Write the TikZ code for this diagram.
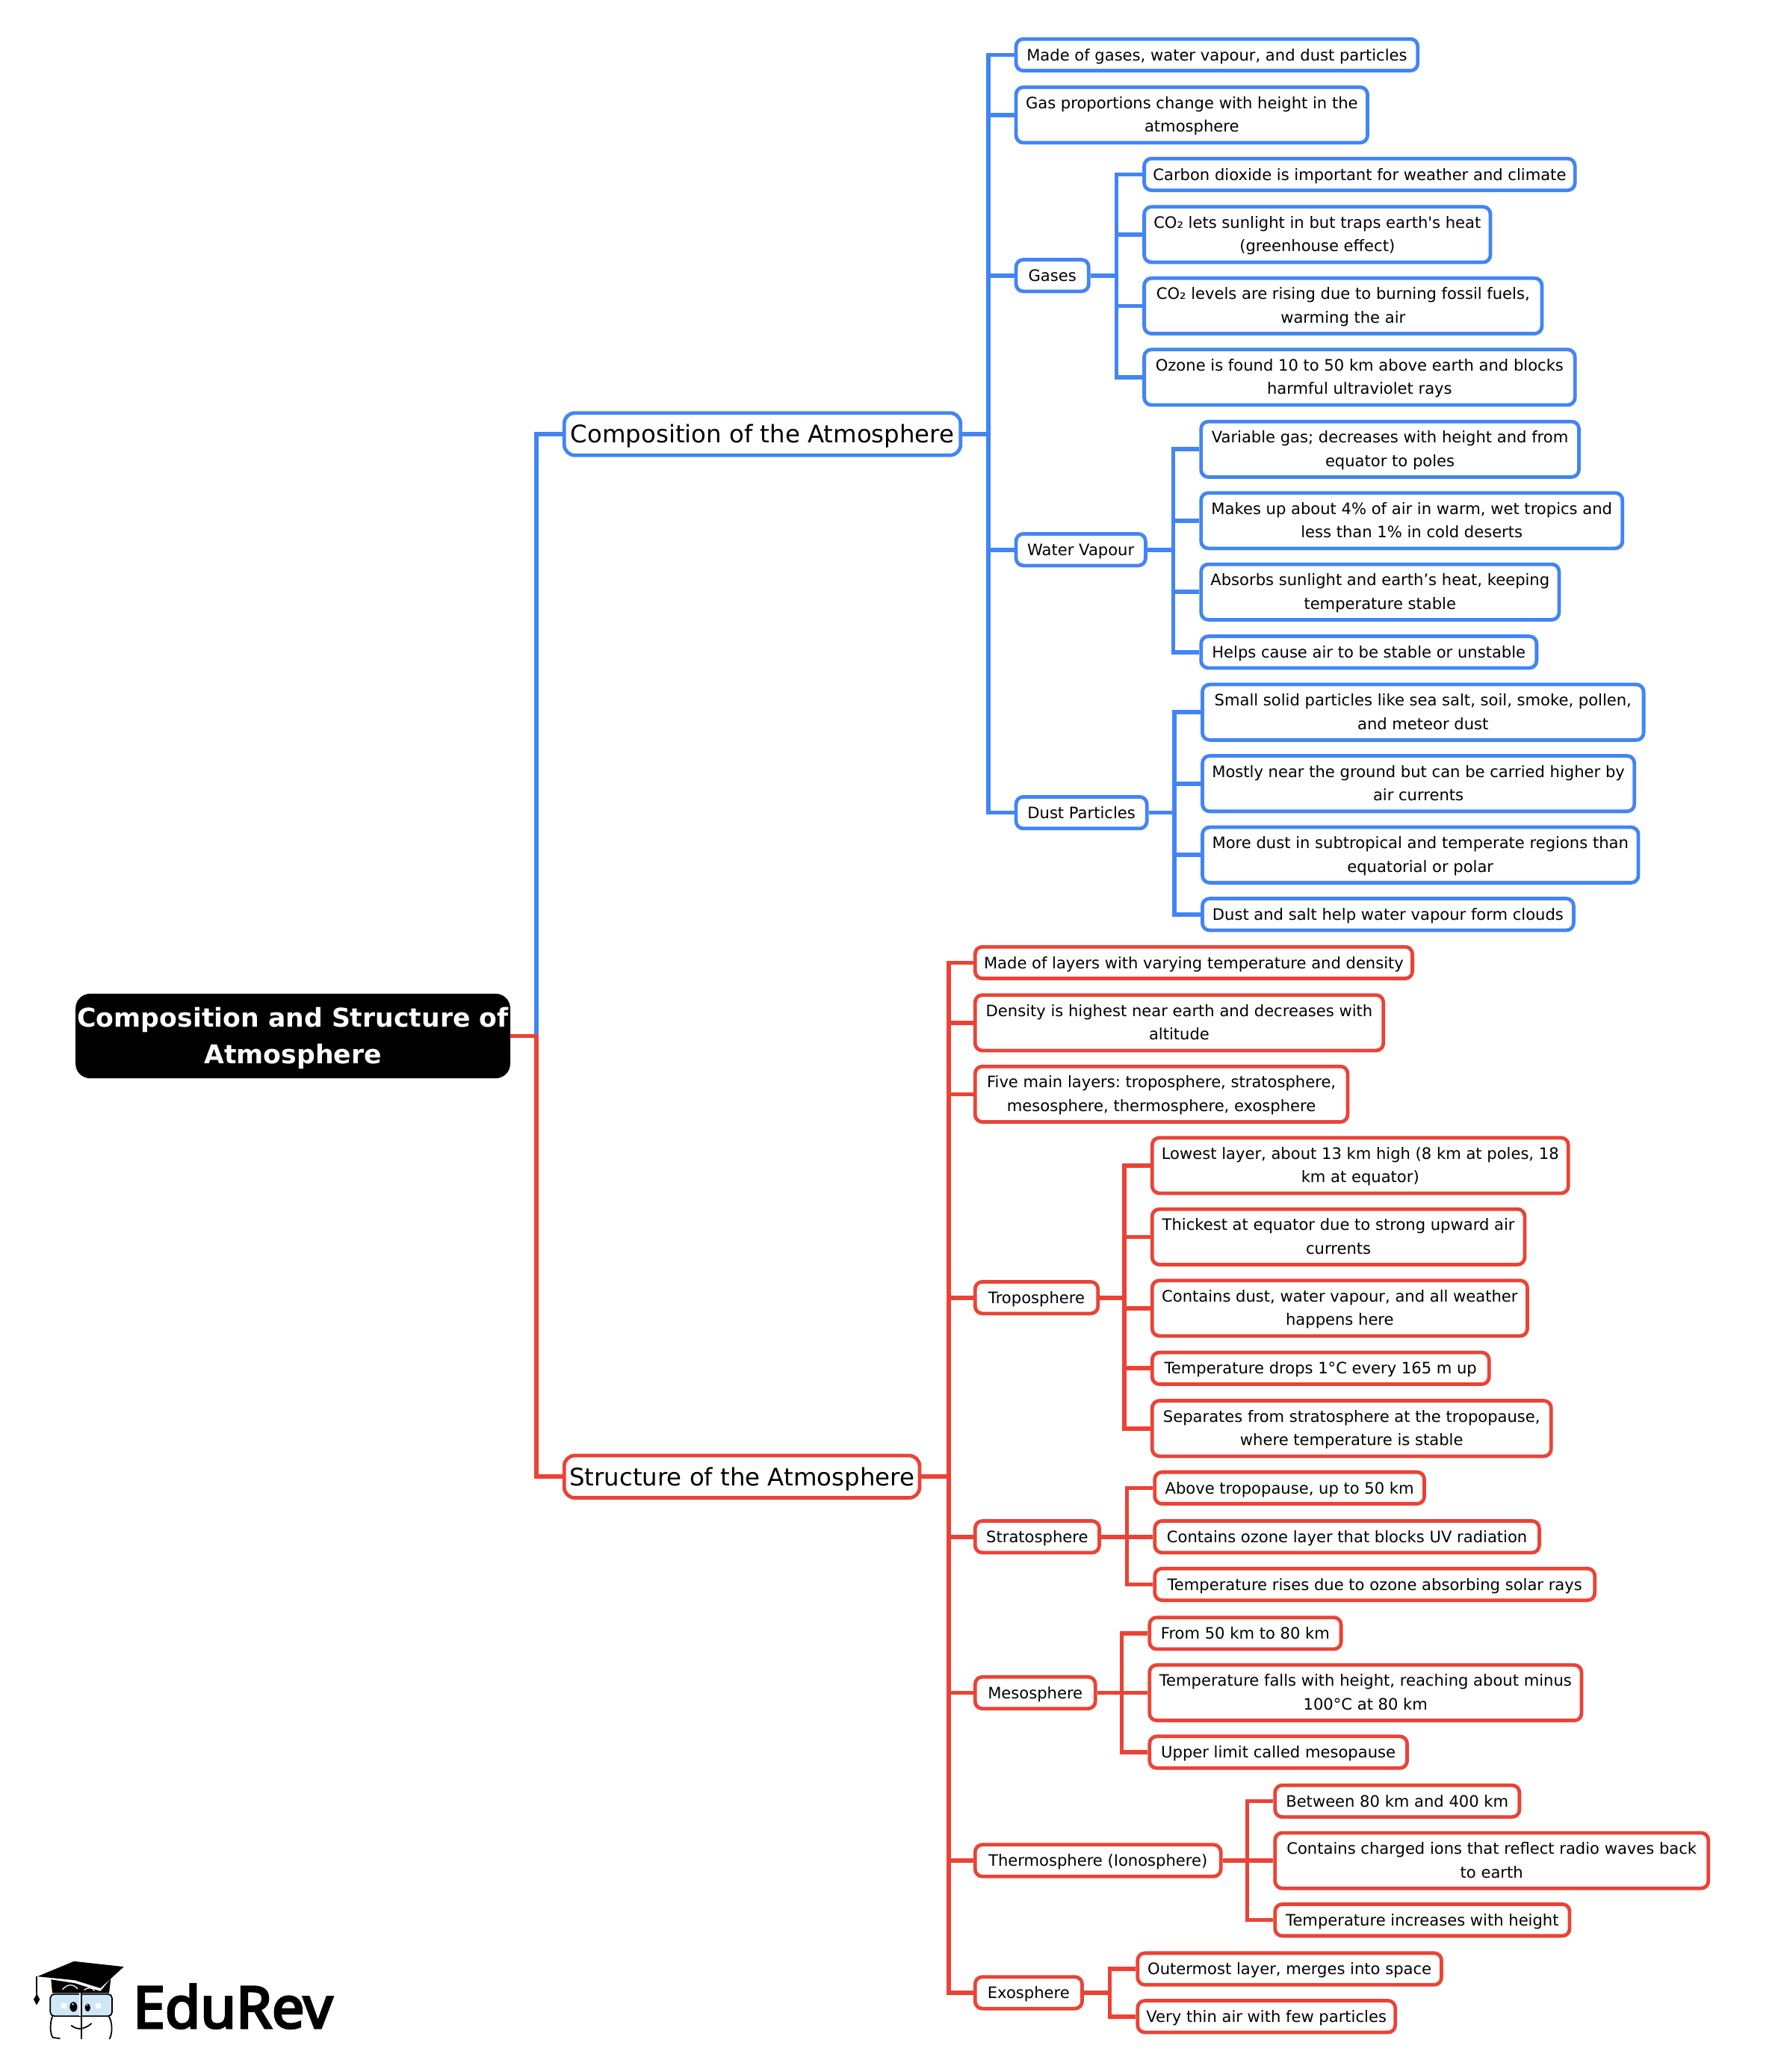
\documentclass[tikz,border=0pt]{standalone}
\usepackage{fontspec}
\usepackage{xcolor}
\usetikzlibrary{calc}
\setmainfont{DejaVu Sans}[Ligatures=TeXOff]
\newfontfamily\logofont[FakeBold=4]{Noto Sans}
\frenchspacing
\definecolor{schemeblue}{RGB}{66,133,244}
\definecolor{schemered}{RGB}{234,67,53}
\definecolor{lensblue}{RGB}{207,232,248}
\tikzset{
	leafbox/.style={anchor=west,xshift=-1.3,rounded corners=5.5pt,line width=2.7pt,fill=white,inner sep=0pt,minimum height=24,text height=11.5,text depth=2.8,align=center,font=\fontsize{11.92}{17.8}\selectfont},
	bluebox/.style={leafbox,draw=schemeblue},
	redbox/.style={leafbox,draw=schemered},
	twolines/.style={minimum height=42,text height=28.8,text depth=2.8},
	bigbox/.style={minimum height=32,rounded corners=8pt,text height=17.5,text depth=3.9,font=\fontsize{18.3}{20}\selectfont},
	bluelink/.style={draw=schemeblue,line width=3.2pt},
	redlink/.style={draw=schemered,line width=3.2pt}
}
\begin{document}
\begin{tikzpicture}[x=1pt,y=-1pt]
			\useasboundingbox (0,0) rectangle (1350,1568);

			\node[anchor=west,fill=black,text=white,rounded corners=11pt,inner sep=0pt,minimum width=329,minimum height=64,text height=46.9,text depth=4.6,align=center,font=\fontsize{19.6}{28}\selectfont\bfseries] (root) at (57,784) {Composition and Structure of\\Atmosphere};

			\node[bluebox,bigbox,minimum width=300] (comp) at (427,328.5) {Composition of the Atmosphere};
			\node[redbox,bigbox,minimum width=269] (struct) at (427,1117.5) {Structure of the Atmosphere};

			\node[bluebox,minimum width=304] (made) at (769,41.5) {Made of gases, water vapour, and dust particles};
			\node[bluebox,twolines,minimum width=266] (prop) at (769,87) {Gas proportions change with height in the\\atmosphere};
			\node[bluebox,minimum width=55] (gases) at (769,208.5) {Gases};
			\node[bluebox,minimum width=98] (water) at (769,416) {Water Vapour};
			\node[bluebox,minimum width=99] (dust) at (769,615) {Dust Particles};

			\node[bluebox,minimum width=326] (gasa) at (866,132) {Carbon dioxide is important for weather and climate};
			\node[bluebox,twolines,minimum width=262] (gasb) at (866,177.5) {CO₂ lets sunlight in but traps earth's heat\\(greenhouse effect)};
			\node[bluebox,twolines,minimum width=301] (gasc) at (866,231.5) {CO₂ levels are rising due to burning fossil fuels,\\warming the air};
			\node[bluebox,twolines,minimum width=326] (gasd) at (866,285.5) {Ozone is found 10 to 50 km above earth and blocks\\harmful ultraviolet rays};

			\node[bluebox,twolines,minimum width=286] (watera) at (909,340) {Variable gas; decreases with height and from\\equator to poles};
			\node[bluebox,twolines,minimum width=319] (waterb) at (909,394) {Makes up about 4\% of air in warm, wet tropics and\\less than 1\% in cold deserts};
			\node[bluebox,twolines,minimum width=271] (waterc) at (909,448) {Absorbs sunlight and earth’s heat, keeping\\temperature stable};
			\node[bluebox,minimum width=254] (waterd) at (909,493.5) {Helps cause air to be stable or unstable};

			\node[bluebox,twolines,minimum width=334] (dusta) at (910,539) {Small solid particles like sea salt, soil, smoke, pollen,\\and meteor dust};
			\node[bluebox,twolines,minimum width=327] (dustb) at (910,593) {Mostly near the ground but can be carried higher by\\air currents};
			\node[bluebox,twolines,minimum width=330] (dustc) at (910,647) {More dust in subtropical and temperate regions than\\equatorial or polar};
			\node[bluebox,minimum width=281] (dustd) at (910,692) {Dust and salt help water vapour form clouds};

			\node[redbox,minimum width=331] (layers) at (738,728.5) {Made of layers with varying temperature and density};
			\node[redbox,twolines,minimum width=309] (density) at (738,774) {Density is highest near earth and decreases with\\altitude};
			\node[redbox,twolines,minimum width=282] (five) at (738,828) {Five main layers: troposphere, stratosphere,\\mesosphere, thermosphere, exosphere};
			\node[redbox,minimum width=93] (tropo) at (738,982) {Troposphere};
			\node[redbox,minimum width=94] (strato) at (738,1163) {Stratosphere};
			\node[redbox,minimum width=91] (meso) at (738,1281) {Mesosphere};
			\node[redbox,minimum width=186] (thermo) at (738,1408) {Thermosphere (Ionosphere)};
			\node[redbox,minimum width=81] (exo) at (738,1508) {Exosphere};

			\node[redbox,twolines,minimum width=315] (tropoa) at (872,882) {Lowest layer, about 13 km high (8 km at poles, 18\\km at equator)};
			\node[redbox,twolines,minimum width=282] (tropob) at (872,936) {Thickest at equator due to strong upward air\\currents};
			\node[redbox,twolines,minimum width=284] (tropoc) at (872,990) {Contains dust, water vapour, and all weather\\happens here};
			\node[redbox,minimum width=255] (tropod) at (872,1035.5) {Temperature drops 1°C every 165 m up};
			\node[redbox,twolines,minimum width=302] (tropoe) at (872,1081) {Separates from stratosphere at the tropopause,\\where temperature is stable};

			\node[redbox,minimum width=204] (stratoa) at (874,1126) {Above tropopause, up to 50 km};
			\node[redbox,minimum width=291] (stratob) at (874,1163) {Contains ozone layer that blocks UV radiation};
			\node[redbox,minimum width=333] (stratoc) at (874,1199) {Temperature rises due to ozone absorbing solar rays};

			\node[redbox,minimum width=145] (mesoa) at (870,1236) {From 50 km to 80 km};
			\node[redbox,twolines,minimum width=327] (mesob) at (870,1281) {Temperature falls with height, reaching about minus\\100°C at 80 km};
			\node[redbox,minimum width=195] (mesoc) at (870,1326) {Upper limit called mesopause};

			\node[redbox,minimum width=185] (thermoa) at (965,1363) {Between 80 km and 400 km};
			\node[redbox,twolines,minimum width=328] (thermob) at (965,1408) {Contains charged ions that reflect radio waves back\\to earth};
			\node[redbox,minimum width=223] (thermoc) at (965,1453) {Temperature increases with height};

			\node[redbox,minimum width=230] (exoa) at (861,1490) {Outermost layer, merges into space};
			\node[redbox,minimum width=195] (exob) at (861,1526) {Very thin air with few particles};

			\coordinate (rootbus) at (406,784);
			\coordinate (compbus) at (748,328.5);
			\coordinate (gasbus) at (845,208.5);
			\coordinate (waterbus) at (888,416);
			\coordinate (dustbus) at (889,615);
			\coordinate (structbus) at (718,1117.5);
			\coordinate (tropobus) at (851,982);
			\coordinate (stratobus) at (853,1163);
			\coordinate (mesobus) at (849,1281);
			\coordinate (thermobus) at (944,1408);
			\coordinate (exobus) at (840,1508);

			\draw[bluelink] (root.east) -- (rootbus) |- (comp.west);

			\draw[bluelink] (comp.east) -- (compbus) |- (made.west);
			\draw[bluelink] (comp.east) -- (compbus) |- (prop.west);
			\draw[bluelink] (comp.east) -- (compbus) |- (gases.west);
			\draw[bluelink] (comp.east) -- (compbus) |- (water.west);
			\draw[bluelink] (comp.east) -- (compbus) |- (dust.west);

			\draw[bluelink] (gases.east) -- (gasbus) |- (gasa.west);
			\draw[bluelink] (gases.east) -- (gasbus) |- (gasb.west);
			\draw[bluelink] (gases.east) -- (gasbus) |- (gasc.west);
			\draw[bluelink] (gases.east) -- (gasbus) |- (gasd.west);

			\draw[bluelink] (water.east) -- (waterbus) |- (watera.west);
			\draw[bluelink] (water.east) -- (waterbus) |- (waterb.west);
			\draw[bluelink] (water.east) -- (waterbus) |- (waterc.west);
			\draw[bluelink] (water.east) -- (waterbus) |- (waterd.west);

			\draw[bluelink] (dust.east) -- (dustbus) |- (dusta.west);
			\draw[bluelink] (dust.east) -- (dustbus) |- (dustb.west);
			\draw[bluelink] (dust.east) -- (dustbus) |- (dustc.west);
			\draw[bluelink] (dust.east) -- (dustbus) |- (dustd.west);

			\draw[redlink] (root.east) -- (rootbus) |- (struct.west);

			\draw[redlink] (struct.east) -- (structbus) |- (layers.west);
			\draw[redlink] (struct.east) -- (structbus) |- (density.west);
			\draw[redlink] (struct.east) -- (structbus) |- (five.west);
			\draw[redlink] (struct.east) -- (structbus) |- (tropo.west);
			\draw[redlink] (struct.east) -- (structbus) |- (strato.west);
			\draw[redlink] (struct.east) -- (structbus) |- (meso.west);
			\draw[redlink] (struct.east) -- (structbus) |- (thermo.west);
			\draw[redlink] (struct.east) -- (structbus) |- (exo.west);

			\draw[redlink] (tropo.east) -- (tropobus) |- (tropoa.west);
			\draw[redlink] (tropo.east) -- (tropobus) |- (tropob.west);
			\draw[redlink] (tropo.east) -- (tropobus) |- (tropoc.west);
			\draw[redlink] (tropo.east) -- (tropobus) |- (tropod.west);
			\draw[redlink] (tropo.east) -- (tropobus) |- (tropoe.west);

			\draw[redlink] (strato.east) -- (stratobus) |- (stratoa.west);
			\draw[redlink] (strato.east) -- (stratobus) |- (stratob.west);
			\draw[redlink] (strato.east) -- (stratobus) |- (stratoc.west);

			\draw[redlink] (meso.east) -- (mesobus) |- (mesoa.west);
			\draw[redlink] (meso.east) -- (mesobus) |- (mesob.west);
			\draw[redlink] (meso.east) -- (mesobus) |- (mesoc.west);

			\draw[redlink] (thermo.east) -- (thermobus) |- (thermoa.west);
			\draw[redlink] (thermo.east) -- (thermobus) |- (thermob.west);
			\draw[redlink] (thermo.east) -- (thermobus) |- (thermoc.west);

			\draw[redlink] (exo.east) -- (exobus) |- (exoa.west);
			\draw[redlink] (exo.east) -- (exobus) |- (exob.west);

			\node[anchor=base west,inner sep=0pt,font=\fontsize{43.6}{44}\logofont] (logotext) at (100.5,1534.6) {EduRev};

			\begin{scope}[shift={(0,1448)},x=0.1885pt,y=-0.1885pt]
				\fill[black] (150,253) -- (297,192) -- (497,214) -- (403,300) -- (300,268) -- cycle;
				\fill[black] (205,265) -- (300,280) -- (403,312) -- (445,262) -- (438,320) -- (210,320) -- cycle;
				\draw[black,line width=1pt] (148,253) -- (148,325);
				\fill[black] (148,322) -- (135,345) -- (147,368) -- (160,345) -- cycle;
				\draw[white,line width=0.7pt] (250,306) .. controls (270,282) and (295,282) .. (312,303);
				\draw[white,line width=0.7pt] (338,308) .. controls (350,296) and (370,296) .. (380,310);
				\draw[black,line width=1pt,fill=lensblue,rounded corners=3pt] (202,324) rectangle (450,412);
				\draw[black,line width=1pt,line cap=round] (240,502) -- (212,498) .. controls (200,480) and (200,440) .. (210,414);
				\draw[black,line width=1pt,line cap=round] (438,414) .. controls (452,440) and (452,480) .. (440,503);
				\draw[white,line width=1pt] (320,318) -- (320,412);
				\draw[black,line width=1pt] (327,318) -- (327,505);
				\fill[black] (295,375) ellipse [x radius=15,y radius=20];
				\fill[white] (293,364) circle [radius=4];
				\fill[black] (352,378) ellipse [x radius=11,y radius=16];
				\fill[white] (350,368) circle [radius=3];
				\fill[white] (247,360) rectangle (268,381);
				\fill[white] (385,360) rectangle (406,381);
				\draw[black,line width=1pt,line cap=round] (287,450) .. controls (310,470) and (340,465) .. (367,442);
			\end{scope}
		\end{tikzpicture}
\end{document}
